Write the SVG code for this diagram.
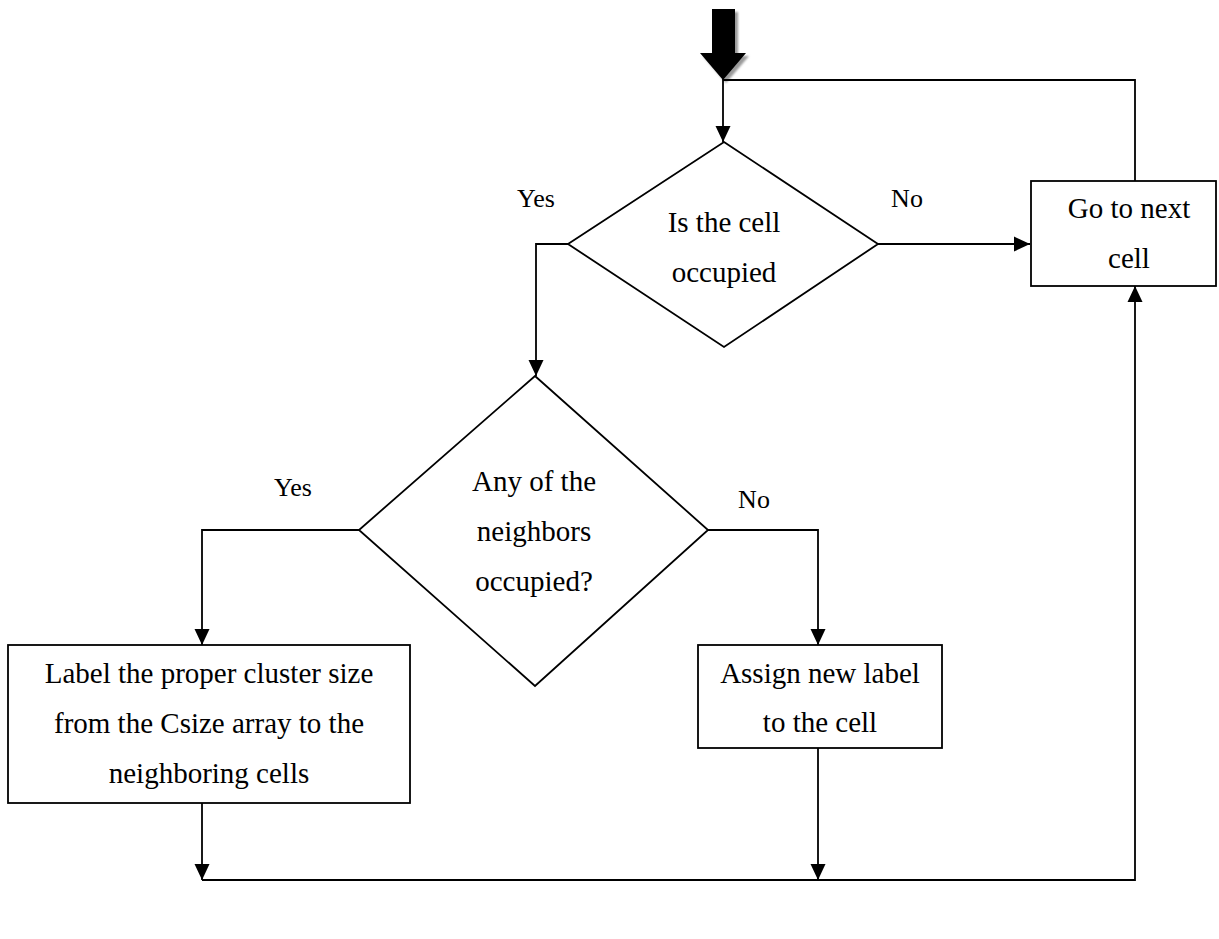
<svg xmlns="http://www.w3.org/2000/svg" width="1219" height="939" viewBox="0 0 1219 939">
  <style>
    .shape { fill: #ffffff; stroke: #000000; stroke-width: 1.8; }
    .link { fill: none; stroke: #000000; stroke-width: 1.8; }
    .txt { font-family: "Liberation Serif", "Times New Roman", serif; font-size: 29px; fill: #000000; text-anchor: middle; }
    .lbl { font-family: "Liberation Serif", "Times New Roman", serif; font-size: 26px; fill: #000000; text-anchor: middle; }
  </style>
  <defs>
    <marker id="arrow" markerUnits="userSpaceOnUse" markerWidth="17" markerHeight="16" refX="16" refY="8" orient="auto">
      <path d="M0,0.5 L16,8 L0,15.5 z" fill="#000000"/>
    </marker>
    <filter id="soft" x="-20%" y="-20%" width="140%" height="140%">
      <feGaussianBlur stdDeviation="1.2"/>
    </filter>
  </defs>

  <rect width="1219" height="939" fill="#ffffff"/>

  <!-- start arrow with drop shadow -->
  <g id="start">
    <polygon points="715,12 738,12 738,56 749,56 726,83 703,56 715,56" fill="#9a9a9a" filter="url(#soft)"/>
    <polygon points="712,9 735,9 735,53 746,53 723,80 700,53 712,53" fill="#000000"/>
  </g>

  <!-- connectors -->
  <g id="connectors">
    <path class="link" d="M1135,181 V80 H723 V142" marker-end="url(#arrow)"/>
    <path class="link" d="M878,244 H1030" marker-end="url(#arrow)"/>
    <path class="link" d="M568,244 H536 V376" marker-end="url(#arrow)"/>
    <path class="link" d="M359,530 H202 V645" marker-end="url(#arrow)"/>
    <path class="link" d="M708,530 H818 V645" marker-end="url(#arrow)"/>
    <path class="link" d="M202,803 V880" marker-end="url(#arrow)"/>
    <path class="link" d="M818,748 V880" marker-end="url(#arrow)"/>
    <path class="link" d="M202,880 H1135 V286" marker-end="url(#arrow)"/>
  </g>

  <!-- decision: is the cell occupied -->
  <g id="cell-occupied">
    <polygon class="shape" points="724,142 878,244 724,347 568,244"/>
    <text class="txt" x="724" y="232">Is the cell</text>
    <text class="txt" x="724" y="282">occupied</text>
  </g>

  <!-- process: go to next cell -->
  <g id="next-cell">
    <rect class="shape" x="1031" y="181" width="185" height="105"/>
    <text class="txt" x="1129" y="218">Go to next</text>
    <text class="txt" x="1129" y="268">cell</text>
  </g>

  <!-- decision: neighbors occupied -->
  <g id="neighbors-occupied">
    <polygon class="shape" points="535,376 708,530 535,686 359,530"/>
    <text class="txt" x="534" y="491">Any of the</text>
    <text class="txt" x="534" y="541">neighbors</text>
    <text class="txt" x="534" y="591">occupied?</text>
  </g>

  <!-- process: label cluster size -->
  <g id="label-cluster">
    <rect class="shape" x="8" y="645" width="402" height="158"/>
    <text class="txt" x="209" y="683">Label the proper cluster size</text>
    <text class="txt" x="209" y="733">from the Csize array to the</text>
    <text class="txt" x="209" y="783">neighboring cells</text>
  </g>

  <!-- process: assign new label -->
  <g id="assign-label">
    <rect class="shape" x="698" y="645" width="244" height="103"/>
    <text class="txt" x="820" y="683">Assign new label</text>
    <text class="txt" x="820" y="732">to the cell</text>
  </g>

  <!-- branch labels -->
  <g id="branch-labels">
    <text class="lbl" x="536" y="207">Yes</text>
    <text class="lbl" x="907" y="207">No</text>
    <text class="lbl" x="293" y="496">Yes</text>
    <text class="lbl" x="754" y="508">No</text>
  </g>
</svg>
